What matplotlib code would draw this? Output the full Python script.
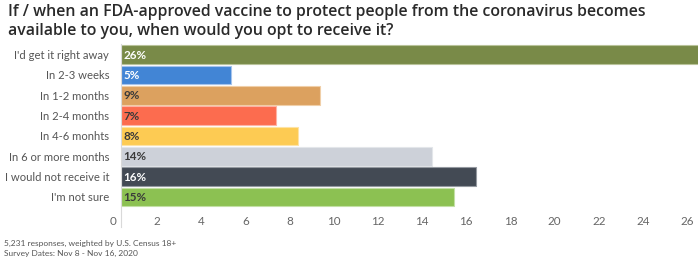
import matplotlib
matplotlib.use("Agg")
import matplotlib.pyplot as plt
import matplotlib.transforms as mtransforms
from matplotlib.lines import Line2D

categories = ["I'd get it right away", "In 2-3 weeks", "In 1-2 months", "In 2-4 months",
              "In 4-6 monhts", "In 6 or more months", "I would not receive it", "I'm not sure"]
values = [26.3, 5.0, 9.0, 7.0, 8.0, 14.1, 16.1, 15.1]
labels = ["26%", "5%", "9%", "7%", "8%", "14%", "16%", "15%"]
colors = ["#798a48", "#4285d5", "#dca15f", "#fc6c4f", "#fdcb53", "#cdd1d9", "#434a54", "#8cc152"]
edges = ["#b9c39a", "#a6c4ec", "#f0cfa8", "#feb3a4", "#fee3a4", "#e3e6ea", "#9499a0", "#c3e0a5"]
text_colors = ["white", "white", "#3a3a3a", "#3a3a3a", "#3a3a3a", "#3a3a3a", "white", "#3a3a3a"]
xticks = list(range(0, 27, 2))

title = ("If / when an FDA-approved vaccine to protect people from the coronavirus becomes\n"
         "available to you, when would you opt to receive it?")
footer = ["5,231 responses, weighted by U.S. Census 18+", "Survey Dates: Nov 8 - Nov 16, 2020"]

FONT = "Open Sans"
FONT2 = "Lato"
W, H = 700, 261
fig = plt.figure(figsize=(7, 2.61), dpi=100)
ax = fig.add_axes([121 / W, 1 - 212 / H, (698 - 121) / W, (212 - 44) / H])

y = list(range(len(categories)))
ax.barh(y, values, height=0.92, color=colors, edgecolor=edges, linewidth=0.8)
ax.set_ylim(7.5 + (212 - 207) / 20.5, -0.52)
ax.set_xlim(0, (698 - 121) / 22.08)

for yi, lab, tc in zip(y, labels, text_colors):
    ax.text(0.12, yi + 0.03, lab, ha="left", va="center", color=tc, fontsize=8.4,
            fontweight="bold", family=FONT2)

ax.set_yticks(y)
ax.set_yticklabels(categories, fontsize=8.1, color="#555555", family=FONT2)
ax.tick_params(axis="y", length=0, pad=8.5)
ax.set_xticks(xticks)
ax.set_xticklabels([str(t) for t in xticks], fontsize=8.4, color="#666666", family=FONT2)
ax.tick_params(axis="x", length=0, pad=3)
offset = mtransforms.ScaledTranslation(-8 / 100, 0, fig.dpi_scale_trans)
for lbl in ax.get_xticklabels():
    lbl.set_transform(lbl.get_transform() + offset)

for s in ax.spines.values():
    s.set_visible(False)
fig.add_artist(Line2D([120.5 / W, 120.5 / W], [1 - 44 / H, 1 - 227 / H], color="#d9d9d9", lw=0.8))

fig.text(8 / W, 1 - 4.5 / H, title, ha="left", va="top", fontsize=11.4, color="#2a2a2a",
         family=FONT, fontweight="semibold", linespacing=1.22)
fig.text(4 / W, 1 - 243 / H, footer[0], ha="left", va="center", fontsize=6.0, color="#555555", family=FONT2)
fig.text(4 / W, 1 - 253.5 / H, footer[1], ha="left", va="center", fontsize=6.0, color="#555555", family=FONT2)

fig.savefig("out.png", dpi=100, facecolor="white")
